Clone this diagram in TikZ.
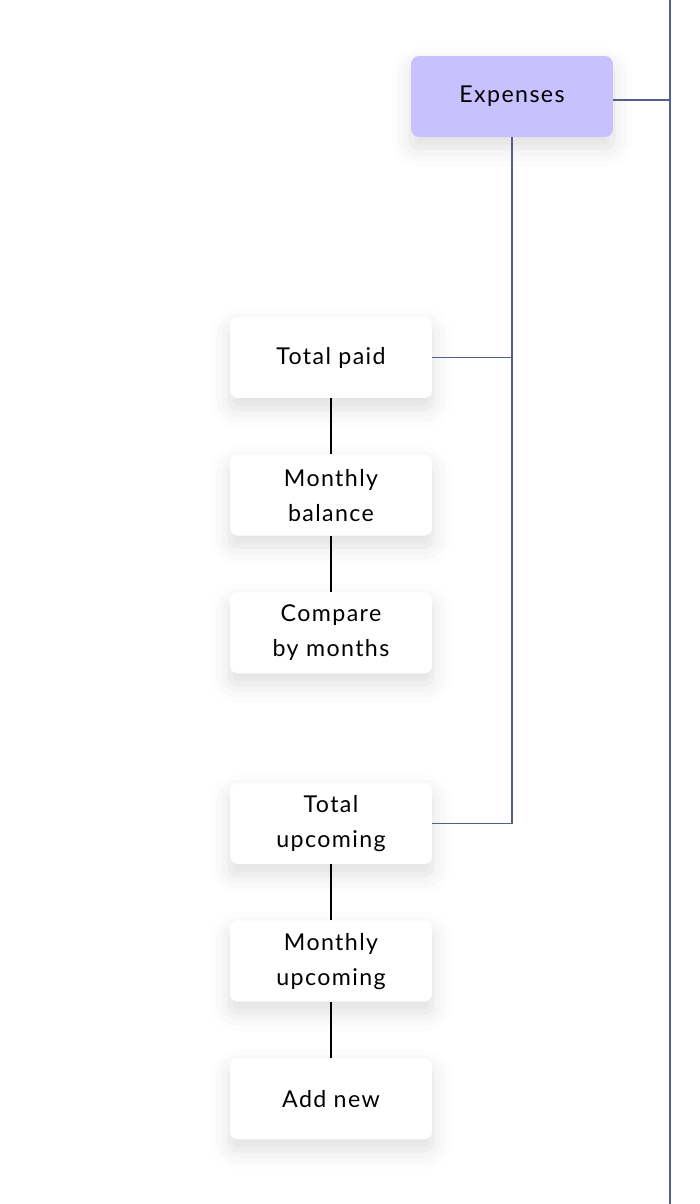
\documentclass[tikz,border=0pt]{standalone}
\usepackage{fontspec}
\setmainfont{Lato}[LetterSpace=6]
\usetikzlibrary{positioning, shadows.blur}
\definecolor{lavender}{RGB}{200,192,255}
\definecolor{slateline}{RGB}{82,94,140}

\begin{document}
\begin{tikzpicture}[x=0.02cm, y=-0.02cm,
    item/.style={rectangle, rounded corners=0.16cm, fill=white, align=center,
                 minimum width=4.04cm, minimum height=1.62cm, inner sep=0pt,
                 font=\fontsize{13.2}{20}\selectfont,
                 blur shadow={shadow xshift=0pt, shadow yshift=-6pt, shadow blur radius=11pt, shadow opacity=13}},
    root/.style={item, fill=lavender},
    trunk/.style={draw=slateline, line width=0.6pt},
    link/.style={draw=black, line width=0.6pt}
  ]
    \useasboundingbox (0,0) rectangle (700,1204);

    % category box and the border line on the right
    \node[root] (exp) at (512,96.5) {Expenses};
    \coordinate (edgetop) at (670,0);
    \coordinate (edgebot) at (670,1204);
    \draw[trunk] (edgetop) -- (edgebot);
    \draw[trunk] ([yshift=-0.07cm]exp.east) -- ([yshift=-0.07cm]exp.east -| edgetop);

    % paid branch
    \node[item] (paid) at (331,357.5) {Total paid};
    \node[item, below=1.12cm of paid] (balance) {Monthly\\balance};
    \node[item, below=1.12cm of balance] (compare) {Compare\\by months};

    % upcoming branch
    \node[item] (upcoming) at (331,823.5) {Total\\upcoming};
    \node[item, below=1.12cm of upcoming] (monthly) {Monthly\\upcoming};
    \node[item, below=1.12cm of monthly] (addnew) {Add new};

    % spine from Expenses down to both branches
    \draw[trunk] (exp.south) |- (upcoming.east);
    \draw[trunk] (paid.east) -- (paid.east -| exp.south);

    % links inside each branch
    \draw[link] (paid) -- (balance);
    \draw[link] (balance) -- (compare);
    \draw[link] (upcoming) -- (monthly);
    \draw[link] (monthly) -- (addnew);
\end{tikzpicture}
\end{document}
